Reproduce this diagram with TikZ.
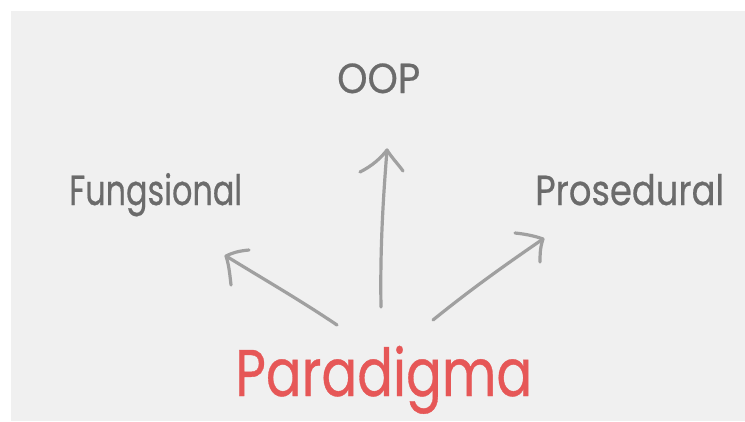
\documentclass[tikz,border=0pt]{standalone}
\usepackage{fontspec}
\setmainfont{Poppins}[FakeBold=0.6]
\usepackage{graphicx}
\definecolor{bgray}{HTML}{F0F0F0}
\definecolor{tgray}{HTML}{6B6B6B}
\definecolor{agray}{HTML}{A0A0A0}
\definecolor{pred}{HTML}{E65757}
\begin{document}
\begin{tikzpicture}[x=1pt,y=-1pt,
  lbl/.style={inner sep=0pt, anchor=base west, text=tgray},
  arr/.style={draw=agray, line width=3.2pt, line cap=round, line join=round}]
\useasboundingbox (0,0) rectangle (745,421);
\fill[white] (0,0) rectangle (745,421);
\fill[bgray] (11,11) rectangle (745,421);
% labels
\node[lbl, font=\fontsize{42}{42}\selectfont] (oop) at (337,93) {\resizebox{83pt}{\height}{OOP}};
\node[lbl, font=\fontsize{42}{42}\selectfont] (fun) at (69,205) {\resizebox{173pt}{\height}{Fungsional}};
\node[lbl, font=\fontsize{42}{42}\selectfont] (pro) at (535,205) {\resizebox{189pt}{\height}{Prosedural}};
\node[lbl, text=pred, font=\fontsize{66}{66}\selectfont] (par) at (235,396) {\resizebox{297pt}{\height}{Paradigma}};
% arrow coordinates
\coordinate (lt) at (337,325); \coordinate (lh) at (226,256);
\coordinate (mt) at (381,307); \coordinate (mh) at (387,150);
\coordinate (rt) at (433,320); \coordinate (rh) at (543,239);
% left arrow
\draw[arr] (lt) .. controls (300,300) and (260,277) .. (lh);
\draw[arr] (249,250) .. controls (238,251) and (232,253) .. (lh) .. controls (229,265) and (230,276) .. (231,285);
% middle arrow
\draw[arr] (mt) .. controls (380,250) and (383,200) .. (mh);
\draw[arr] (360,172) .. controls (372,166) and (381,158) .. (mh) .. controls (392,158) and (398,164) .. (403,171);
% right arrow
\draw[arr] (rt) .. controls (470,290) and (505,265) .. (rh);
\draw[arr] (515,233) .. controls (525,234) and (535,236) .. (rh) .. controls (540,248) and (540,255) .. (540,262);
\end{tikzpicture}
\end{document}
